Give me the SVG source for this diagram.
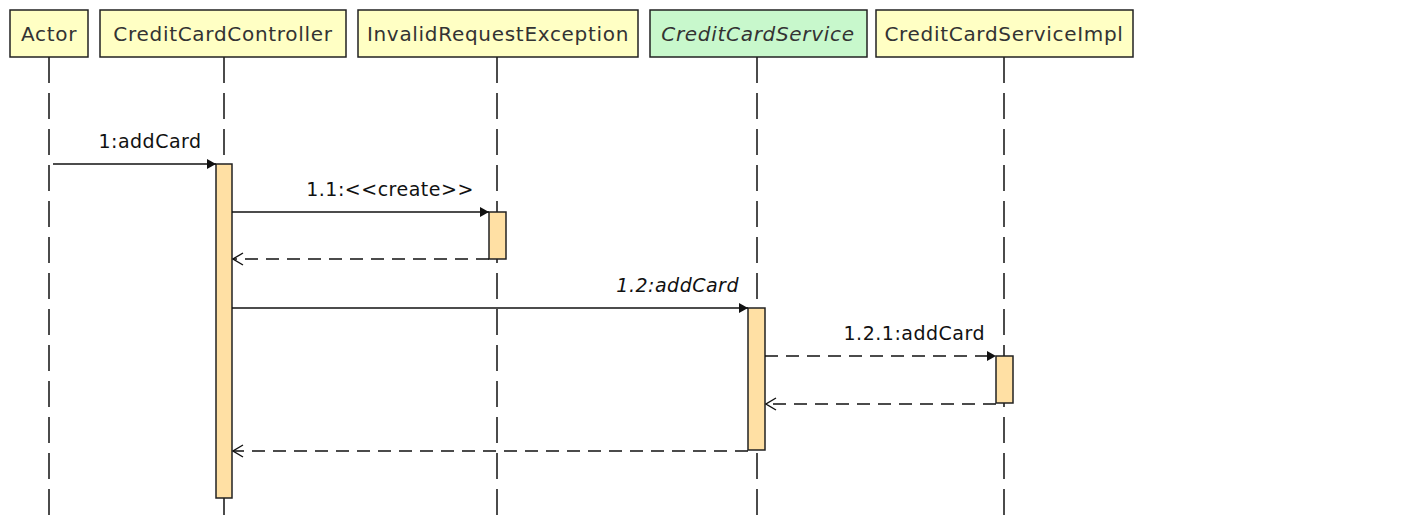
<svg xmlns="http://www.w3.org/2000/svg" width="1404" height="520" viewBox="0 0 1404 520">
<style>
.box{fill:#ffffc4;stroke:#222;stroke-width:1.5}
.iface{fill:#c8f8cc;stroke:#222;stroke-width:1.5}
.life{stroke:#111;stroke-width:1.5;stroke-dasharray:26 10;fill:none}
.act{fill:#ffe0a4;stroke:#222;stroke-width:1.5}
.msg{stroke:#111;stroke-width:1.3;fill:none}
.ret{stroke:#111;stroke-width:1.3;fill:none;stroke-dasharray:13 8}
.hd{font-family:"DejaVu Sans",sans-serif;font-size:20px;letter-spacing:0.7px;fill:#333;text-anchor:middle}
.lb{font-family:"DejaVu Sans",sans-serif;font-size:19px;letter-spacing:0.5px;fill:#111}
</style>
<defs>
<marker id="filled" markerWidth="10" markerHeight="10" refX="9" refY="5" orient="auto" markerUnits="userSpaceOnUse">
<path d="M0,0 L9,5 L0,10 z" fill="#111"/>
</marker>
<marker id="open" markerWidth="12" markerHeight="14" refX="11" refY="7" orient="auto" markerUnits="userSpaceOnUse">
<path d="M1,1 L11,7 L1,13" fill="none" stroke="#111" stroke-width="1.4"/>
</marker>
</defs>
<g id="lifelines">
<line class="life" x1="49" y1="57" x2="49" y2="520"/>
<line class="life" x1="224" y1="57" x2="224" y2="520"/>
<line class="life" x1="497" y1="57" x2="497" y2="520"/>
<line class="life" x1="757" y1="57" x2="757" y2="520"/>
<line class="life" x1="1004" y1="57" x2="1004" y2="520"/>
</g>
<g id="Actor"><rect class="box" x="10" y="10" width="78" height="47"/><text class="hd" x="49" y="41">Actor</text></g>
<g id="CreditCardController"><rect class="box" x="100" y="10" width="246" height="47"/><text class="hd" x="223" y="41">CreditCardController</text></g>
<g id="InvalidRequestException"><rect class="box" x="358" y="10" width="280" height="47"/><text class="hd" x="498" y="41">InvalidRequestException</text></g>
<g id="CreditCardService"><rect class="iface" x="650" y="10" width="217" height="47"/><text class="hd" x="758" y="41" font-style="italic">CreditCardService</text></g>
<g id="CreditCardServiceImpl"><rect class="box" x="876" y="10" width="257" height="47"/><text class="hd" x="1004" y="41">CreditCardServiceImpl</text></g>
<g id="activations">
<rect class="act" x="216" y="164" width="16" height="334"/>
<rect class="act" x="489" y="212" width="17" height="47"/>
<rect class="act" x="748" y="308" width="17" height="142"/>
<rect class="act" x="996" y="356" width="17" height="47"/>
</g>
<g id="connectors">
<line class="msg" x1="53" y1="164" x2="216" y2="164" marker-end="url(#filled)"/>
<text class="lb" x="150" y="148" text-anchor="middle">1:addCard</text>
<line class="msg" x1="232" y1="212" x2="489" y2="212" marker-end="url(#filled)"/>
<text class="lb" x="390" y="196" text-anchor="middle">1.1:&lt;&lt;create&gt;&gt;</text>
<line class="ret" x1="489" y1="259" x2="233" y2="259" marker-end="url(#open)"/>
<line class="msg" x1="232" y1="308" x2="748" y2="308" marker-end="url(#filled)"/>
<text class="lb" x="739" y="292" text-anchor="end" font-style="italic">1.2:addCard</text>
<line class="ret" x1="765" y1="356" x2="996" y2="356" marker-end="url(#filled)"/>
<text class="lb" x="985" y="340" text-anchor="end">1.2.1:addCard</text>
<line class="ret" x1="996" y1="404" x2="766" y2="404" marker-end="url(#open)"/>
<line class="ret" x1="748" y1="451" x2="233" y2="451" marker-end="url(#open)"/>
</g>
</svg>
